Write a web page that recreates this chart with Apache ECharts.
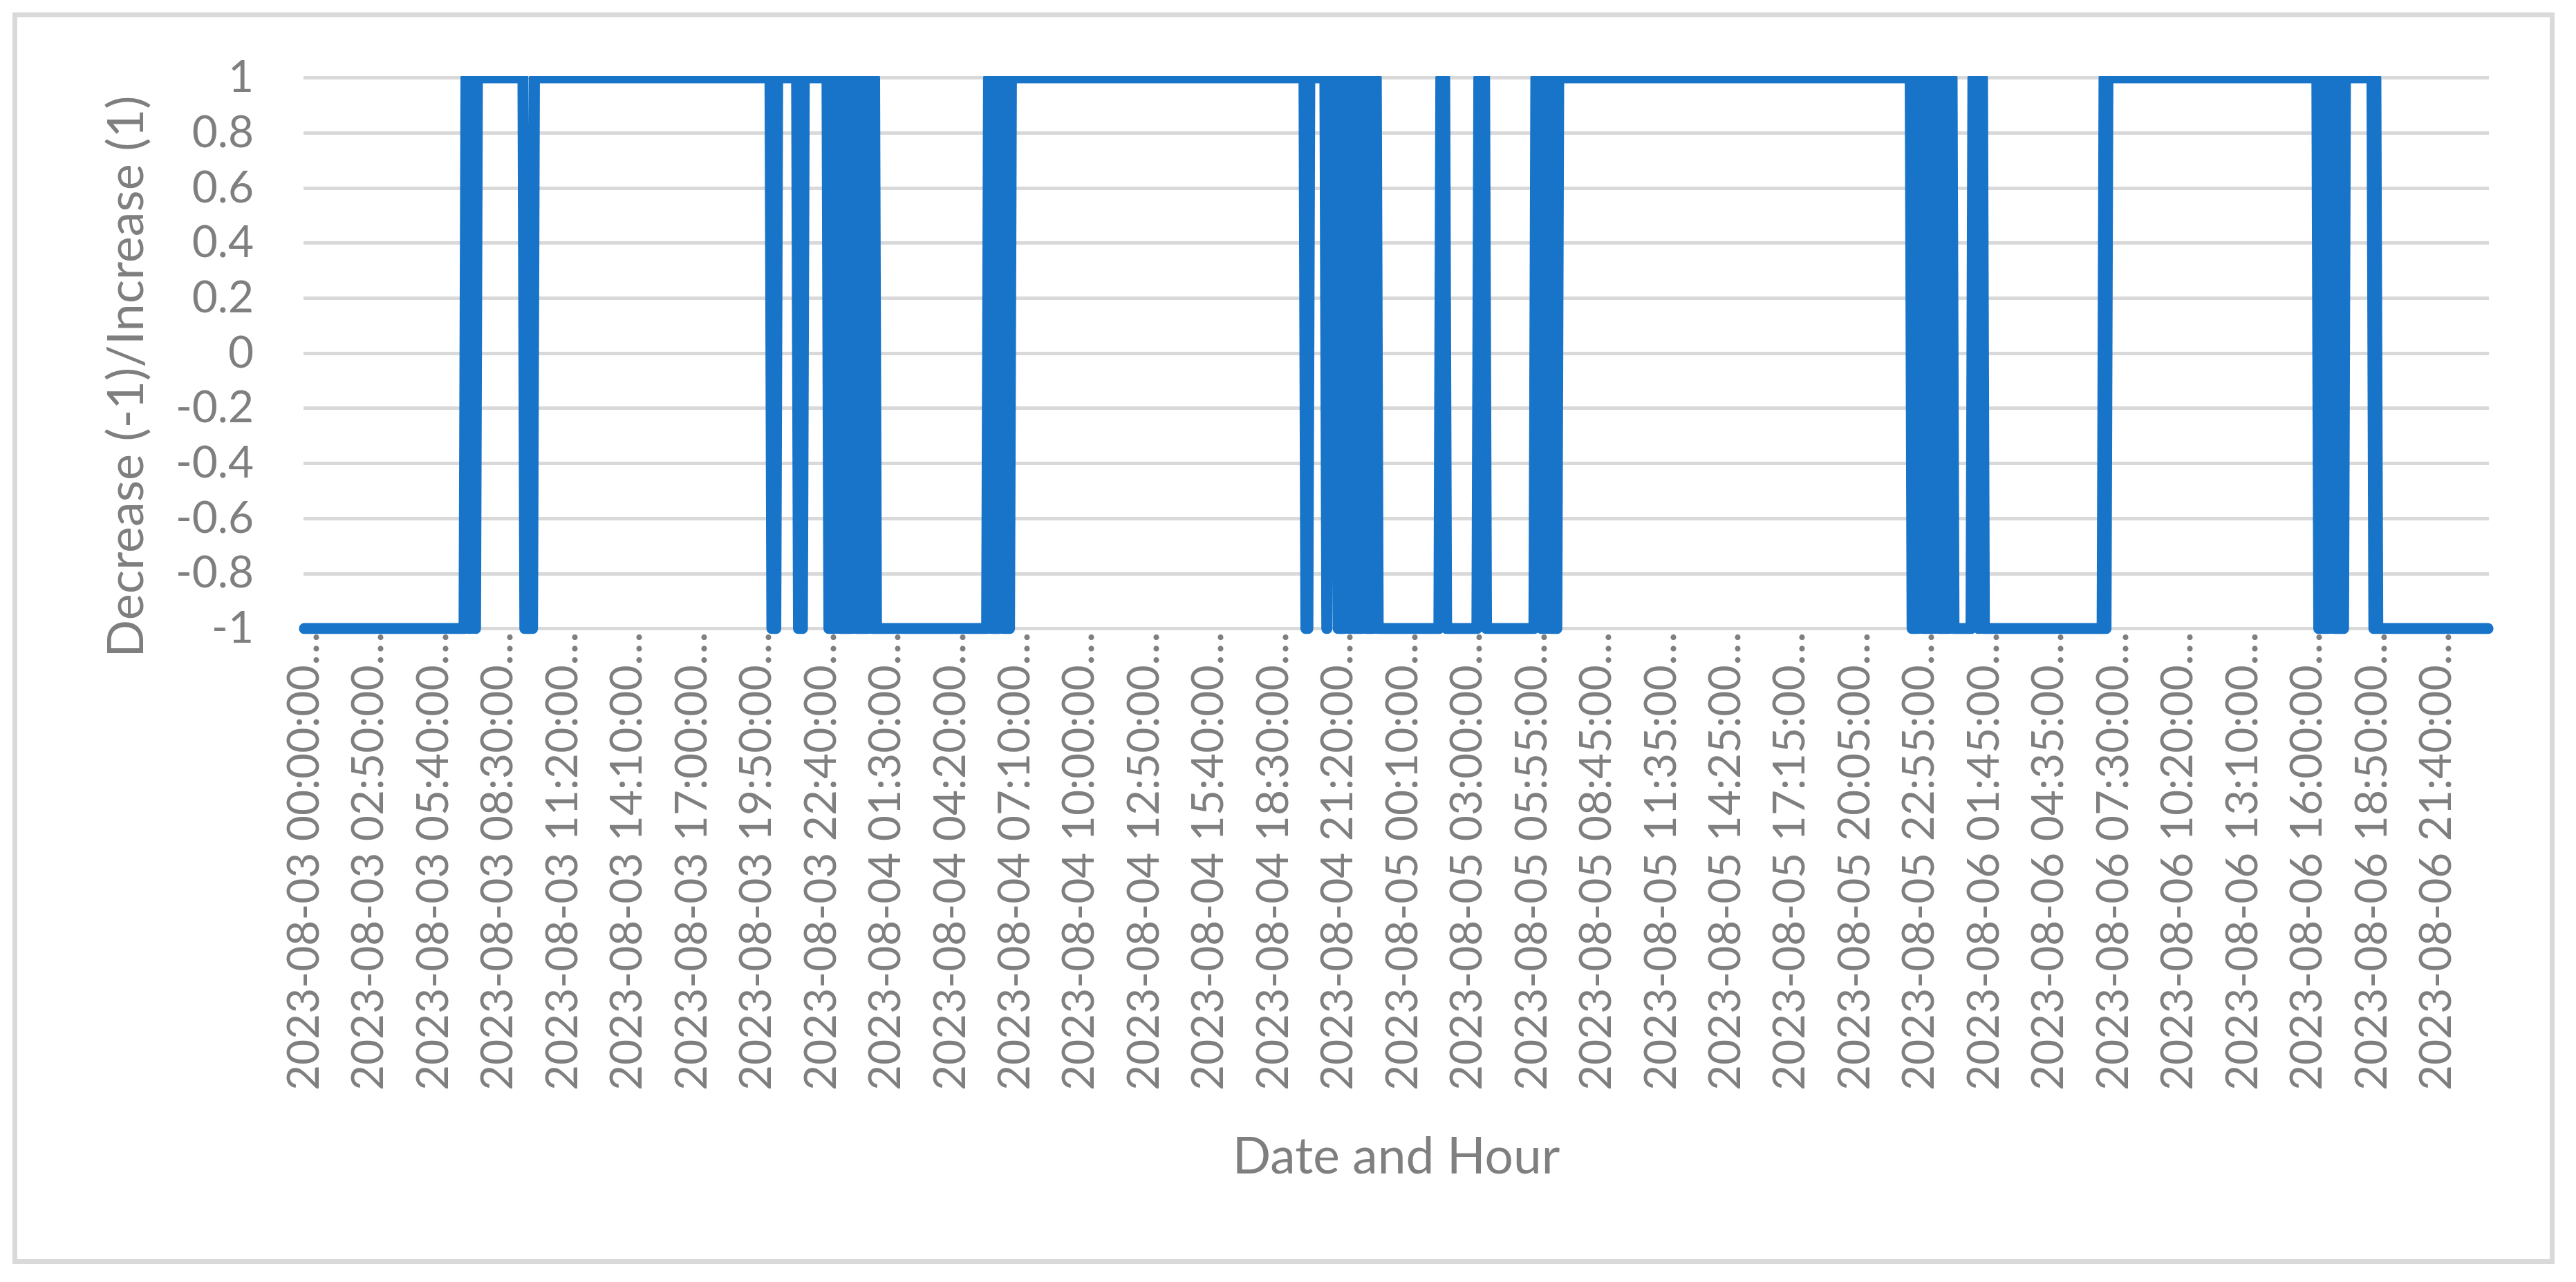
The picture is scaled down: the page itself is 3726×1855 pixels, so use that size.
<!DOCTYPE html>
<html>
<head>
<meta charset="utf-8">
<script src="https://cdn.jsdelivr.net/npm/echarts@6/dist/echarts.min.js"></script>
<style>
  html, body { margin: 0; padding: 0; background: #ffffff; }
  #chart { width: 3726px; height: 1855px; }
</style>
</head>
<body>
<div id="chart"></div>
<script>
// ---- Data ----
// Time axis: 5-minute readings, 2023-08-03 00:00 .. 2023-08-06 23:55, two readings missing
const startTime = '2023-08-03 00:00:00';
const stepMinutes = 5;
const missingTimes = ['2023-08-05 04:00:00', '2023-08-06 06:00:00'];
const pointCount = 1150;

// Signal as runs of [value, number of consecutive readings]
const signRuns = [
  [-1, 85], [1, 2], [-1, 1], [1, 2], [-1, 1], [1, 25], [-1, 5], [1, 125], [-1, 3], [1, 11], [-1, 3], [1, 13],
  [-1, 2], [1, 1], [-1, 1], [1, 2], [-1, 2], [1, 1], [-1, 1], [1, 1], [-1, 2], [1, 2],
  [-1, 1], [1, 1], [-1, 2], [1, 1], [-1, 1], [1, 2], [-1, 1], [1, 1],
  [-1, 59],
  [1, 2], [-1, 1], [1, 1], [-1, 2], [1, 2], [-1, 1], [1, 1], [-1, 2],
  [1, 155], [-1, 2], [1, 9],
  [-1, 1], [1, 5], [-1, 2], [1, 1], [-1, 1], [1, 2], [-1, 2], [1, 1], [-1, 1], [1, 1],
  [-1, 2], [1, 2], [-1, 1], [1, 1], [-1, 2], [1, 2],
  [-1, 33], [1, 3], [-1, 17], [1, 4], [-1, 26], [1, 3], [-1, 3], [1, 2], [-1, 1], [1, 1], [-1, 2],
  [1, 186],
  [-1, 2], [1, 1], [-1, 1], [1, 2], [-1, 1], [1, 1], [-1, 2], [1, 1], [-1, 1], [1, 2],
  [-1, 2], [1, 1], [-1, 1], [1, 1], [-1, 1], [1, 2],
  [-1, 10], [1, 3], [-1, 1], [1, 2], [-1, 63], [1, 1], [-1, 1], [1, 111],
  [-1, 1], [1, 1], [-1, 2], [1, 1], [-1, 1], [1, 2], [-1, 1], [1, 1], [-1, 2], [1, 1], [-1, 1],
  [1, 15], [-1, 1], [1, 1], [-1, 59]
];

const yMin = -1;
const yMax = 1;
const yStep = 0.2;

const xTitle = 'Date and Hour';
const yTitle = 'Decrease (-1)/Increase (1)';

// ---- Build categories and values ----
function pad(n) { return (n < 10 ? '0' : '') + n; }
function fmt(ms) {
  const d = new Date(ms);
  return d.getUTCFullYear() + '-' + pad(d.getUTCMonth() + 1) + '-' + pad(d.getUTCDate()) + ' ' +
    pad(d.getUTCHours()) + ':' + pad(d.getUTCMinutes()) + ':' + pad(d.getUTCSeconds());
}
const categories = [];
let t = Date.parse(startTime.replace(' ', 'T') + 'Z');
while (categories.length < pointCount) {
  const s = fmt(t);
  if (missingTimes.indexOf(s) < 0) categories.push(s);
  t += stepMinutes * 60000;
}
const values = [];
signRuns.forEach(function (r) { for (let i = 0; i < r[1]; i++) values.push(r[0]); });

// ---- Chart ----
const chart = echarts.init(document.getElementById('chart'), null, { renderer: 'canvas' });
const grey = '#7f7f7f';
chart.setOption({
  animation: false,
  backgroundColor: '#ffffff',
  textStyle: { fontFamily: 'Lato' },
  grid: { left: 439, right: 126, top: 112.5, bottom: 945.5, containLabel: false },
  xAxis: {
    type: 'category',
    data: categories,
    boundaryGap: true,
    axisLine: { show: false },
    axisTick: { show: false },
    splitLine: { show: false },
    axisLabel: {
      interval: 33,
      rotate: 90,
      margin: 5,
      fontSize: 64,
      color: grey,
      formatter: function (v) { return v + '\u2026'; }
    },
    name: xTitle,
    nameLocation: 'middle',
    nameGap: 728,
    nameTextStyle: { fontSize: 73, color: grey }
  },
  yAxis: {
    type: 'value',
    min: yMin,
    max: yMax,
    interval: yStep,
    axisLine: { show: false },
    axisTick: { show: false },
    axisLabel: { fontSize: 64, color: grey, margin: 72 },
    splitLine: { show: true, lineStyle: { color: '#d9d9d9', width: 5 } },
    name: yTitle,
    nameLocation: 'middle',
    nameRotate: 90,
    nameGap: 219,
    nameTextStyle: { fontSize: 72, color: grey, padding: [0, 68, 0, 0] }
  },
  series: [{
    type: 'line',
    data: values,
    symbol: 'none',
    showSymbol: false,
    lineStyle: { color: '#1874c9', width: 16, join: 'round', cap: 'round' },
    itemStyle: { color: '#1874c9' }
  }],
  graphic: [
    {
      type: 'rect', silent: true, z: -10,
      shape: { x: 21.5, y: 21.5, width: 3670, height: 1804 },
      style: { fill: 'none', stroke: '#d9d9d9', lineWidth: 7 }
    },
    {
      type: 'rect', silent: true, z: 100,
      shape: { x: 420, y: 90, width: 3200, height: 20 },
      style: { fill: '#ffffff' }
    }
  ]
});
</script>
</body>
</html>
